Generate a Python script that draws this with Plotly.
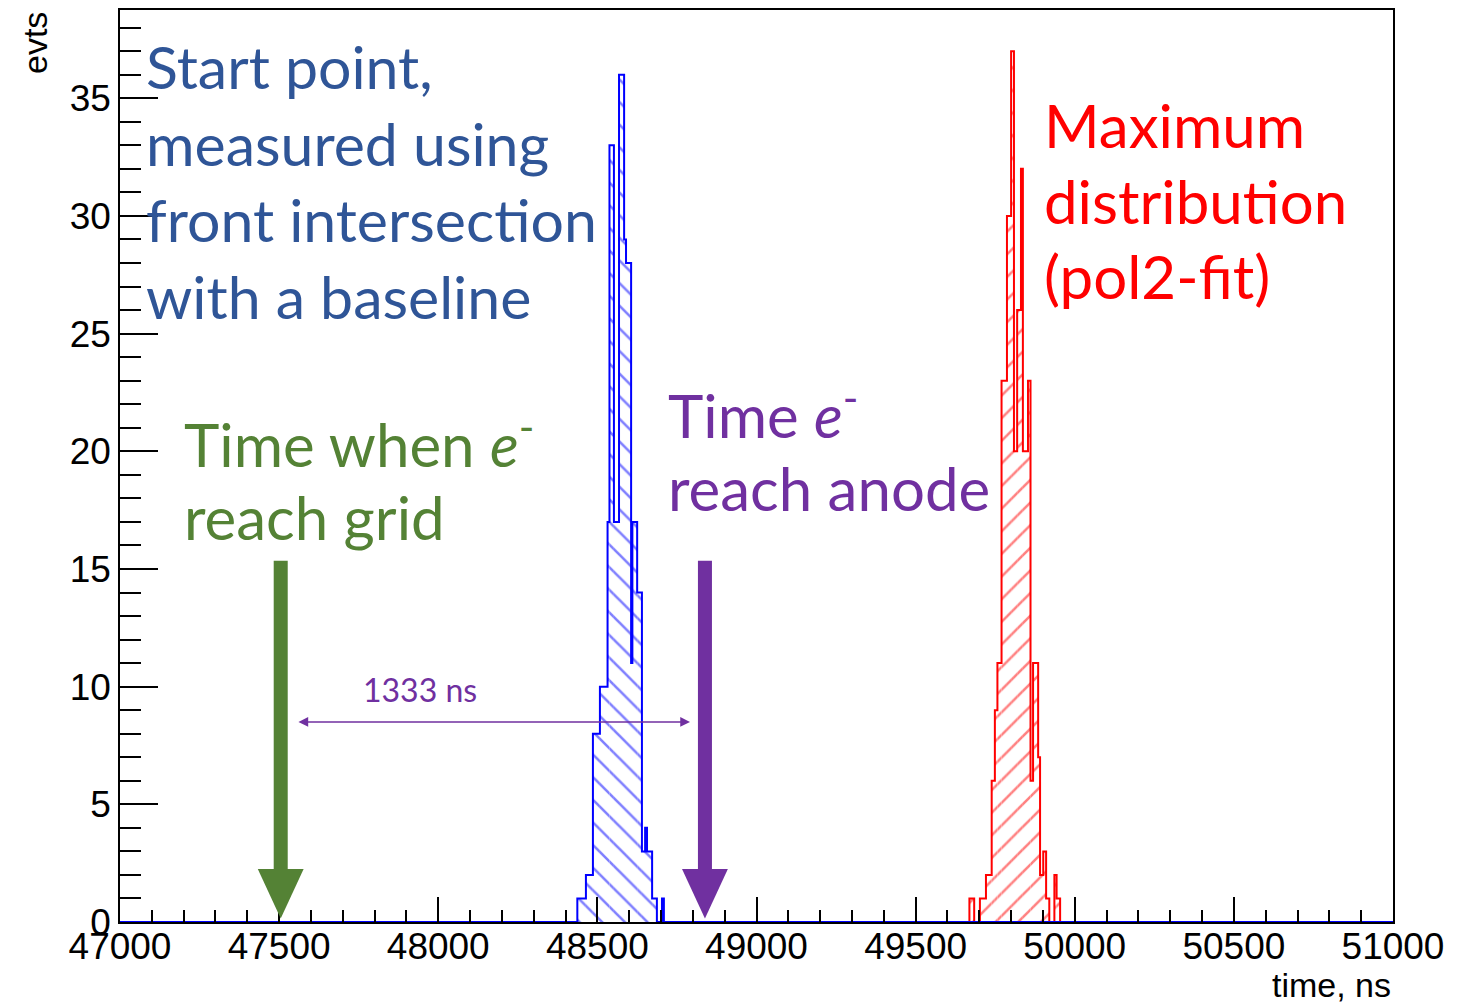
import plotly.graph_objects as go

# ---------------- data ----------------
X_RANGE = [47000, 51000]
Y_RANGE = [0, 38.75]

# start-point histogram (blue), variable bin edges in ns and counts
blue_edges = [48437, 48464, 48486, 48508, 48532, 48538, 48552, 48568, 48584, 48590,
              48606, 48610, 48625, 48640, 48650, 48656, 48672, 48687, 48703, 48709]
blue_counts = [1, 2, 8, 10, 17, 33, 17, 36, 29, 28, 11, 17, 14, 3, 4, 3, 1, 0, 1]

# maximum distribution histogram (red)
red_edges = [49669, 49684, 49702, 49721, 49739, 49749, 49757, 49770, 49787, 49800,
             49809, 49819, 49831, 49837, 49853, 49861, 49869, 49885, 49891, 49901,
             49910, 49920, 49936, 49943, 49954]
red_counts = [1, 0, 1, 2, 6, 9, 11, 23, 30, 37, 20, 26, 32, 20, 23, 6, 11, 7, 2, 3,
              1, 0, 2, 1]

GRID_TIME = 47505          # time when e- reach grid (green arrow)
DRIFT_NS = 1333            # drift time
ANODE_TIME = GRID_TIME + DRIFT_NS  # time e- reach anode (purple arrow)

BLUE = "#0000FF"
RED = "#FF0000"
TXT_BLUE = "#2F5597"
PURPLE = "#7030A0"
GREEN = "#548235"


def bar_geom(edges, counts):
    centers = [(edges[i] + edges[i + 1]) / 2 for i in range(len(counts))]
    widths = [edges[i + 1] - edges[i] for i in range(len(counts))]
    return centers, widths


fig = go.Figure()

# hatched fills
for edges, counts, col, shape in [(red_edges, red_counts, RED, "/"),
                                  (blue_edges, blue_counts, BLUE, "\\")]:
    c, w = bar_geom(edges, counts)
    fig.add_trace(go.Bar(
        x=c, y=counts, width=w,
        marker=dict(color="white", line=dict(width=0),
                    pattern=dict(shape=shape, fgcolor=col, bgcolor="white",
                                 size=16, solidity=0.16)),
        hoverinfo="skip", showlegend=False))

# red outline
fig.add_trace(go.Scatter(
    x=[red_edges[0]] + red_edges, y=[0] + red_counts + [0],
    mode="lines", line=dict(color=RED, width=2, shape="hv"),
    hoverinfo="skip", showlegend=False))
# blue outline, including zero line across full range
fig.add_trace(go.Scatter(
    x=[X_RANGE[0]] + blue_edges + [X_RANGE[1]],
    y=[0] + blue_counts + [0, 0],
    mode="lines", line=dict(color=BLUE, width=2, shape="hv"),
    hoverinfo="skip", showlegend=False))

# ---------------- arrows ----------------
shapes = []
for xc, col in [(GRID_TIME, GREEN), (ANODE_TIME, PURPLE)]:
    shapes.append(dict(type="rect", xref="x", yref="y",
                       x0=xc - 22, x1=xc + 22, y0=2.2, y1=15.35,
                       fillcolor=col, line=dict(width=0)))
    shapes.append(dict(type="path", xref="x", yref="y",
                       path=f"M {xc-72},2.25 L {xc+72},2.25 L {xc},0.15 Z",
                       fillcolor=col, line=dict(width=0)))

annotations = []
# double arrow for drift time
annotations.append(dict(x=ANODE_TIME - 47, y=8.5, ax=GRID_TIME + 51, ay=8.5,
                        xref="x", yref="y", axref="x", ayref="y", text="",
                        showarrow=True, arrowhead=2, startarrowhead=2,
                        arrowside="end+start", arrowwidth=1.5, arrowsize=1.3,
                        startarrowsize=1.3, arrowcolor=PURPLE))
annotations.append(dict(x=47943, y=9.9, xref="x", yref="y", text="1333 ns",
                        showarrow=False, font=dict(family="Lato", size=32, color=PURPLE)))


def text_lines(lines, x, ys, color, size=60):
    for t, yy in zip(lines, ys):
        annotations.append(dict(x=x, y=yy, xref="x", yref="y", text=t,
                                showarrow=False, xanchor="left", yanchor="middle",
                                font=dict(family="Lato", size=size, color=color)))


text_lines(["Start point,", "measured using", "front intersection", "with a baseline"],
           47076, [36.33, 33.06, 29.84, 26.58], TXT_BLUE, size=59)
text_lines(["Maximum", "distribution", "(pol2-fit)"],
           49896, [33.87, 30.65, 27.43], RED)
text_lines(["Time <i>e</i><sup>-</sup>", "reach anode"],
           48716, [21.7, 18.44], PURPLE)
text_lines(["Time when <i>e</i><sup>-</sup>", "reach grid"],
           47195, [20.47, 17.21], GREEN)

# axis titles (ROOT style)
annotations.append(dict(x=(35 - 120) / 1273, y=1.0, xref="paper", yref="paper",
                        text="evts", textangle=-90, showarrow=False,
                        xanchor="center", yanchor="top",
                        font=dict(family="Liberation Sans", size=34, color="black")))
annotations.append(dict(x=1, y=-63 / 914, xref="paper", yref="paper",
                        text="time, ns", showarrow=False,
                        xanchor="right", yanchor="middle",
                        font=dict(family="Liberation Sans", size=34, color="black")))

tickfont = dict(family="Liberation Sans", size=37, color="black")
fig.update_layout(
    width=1463, height=1003,
    margin=dict(l=120, r=70, t=8, b=81, pad=0),
    paper_bgcolor="white", plot_bgcolor="white",
    shapes=shapes, annotations=annotations,
    barmode="overlay", showlegend=False,
    xaxis=dict(range=X_RANGE, tick0=47000, dtick=500, tickformat="d",
               ticks="inside", ticklen=25, tickwidth=1.5, tickcolor="black",
               minor=dict(dtick=100, ticks="inside", ticklen=12, tickwidth=1.5,
                          tickcolor="black"),
               ticklabelstandoff=-9,
               showline=True, linecolor="black", linewidth=1.5, mirror=True,
               showgrid=False, zeroline=False, tickfont=tickfont),
    yaxis=dict(range=Y_RANGE, tick0=0, dtick=5,
               ticks="inside", ticklen=38, tickwidth=1.5, tickcolor="black",
               minor=dict(dtick=1, ticks="inside", ticklen=21, tickwidth=1.5,
                          tickcolor="black"),
               showline=True, linecolor="black", linewidth=1.5, mirror=True,
               showgrid=False, zeroline=False, tickfont=tickfont),
)

fig.write_html("out.html")
